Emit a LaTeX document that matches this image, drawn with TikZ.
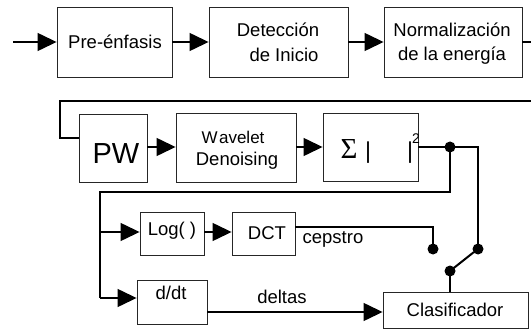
\documentclass[tikz,border=0pt]{standalone}
\usepackage{fontspec}
\setmainfont{Liberation Sans}
\newfontfamily\serifsym{Liberation Serif}
\usetikzlibrary{arrows.meta}
\begin{document}
\begin{tikzpicture}[x=1pt,y=-1pt,
  box/.style={draw=black!85, line width=0.9pt, inner sep=0pt},
  lbl/.style={anchor=base, inner sep=0pt, font=\fontsize{18.5}{22}\selectfont},
  wire/.style={line width=1.3pt},
  arr/.style={wire, -{Triangle[length=19pt,width=18pt]}},
  dot/.style={circle, fill=black, inner sep=0pt, minimum size=11pt}]
\useasboundingbox (0,0) rectangle (531,329);
% boxes
\node[box, minimum width=115pt, minimum height=70pt] (pe) at (114.5,42) {};
\node[box, minimum width=139pt, minimum height=70pt] (di) at (278.5,42) {};
\node[box, minimum width=138pt, minimum height=70pt] (ne) at (453,42) {};
\node[box, minimum width=68pt, minimum height=68pt] (pw) at (113,148) {};
\node[box, minimum width=120pt, minimum height=69pt] (wd) at (236,148) {};
\node[box, minimum width=95pt, minimum height=68pt] (sq) at (370.5,147) {};
\node[box, minimum width=64pt, minimum height=43pt] (lg) at (172,233.5) {};
\node[box, minimum width=63pt, minimum height=43pt] (dc) at (263.5,233.5) {};
\node[box, minimum width=70pt, minimum height=44pt] (dd) at (172,302) {};
\node[box, minimum width=145pt, minimum height=36pt] (cl) at (455.5,310) {};
% texts
\node[lbl] (tpe) at (115,49) {Pre-énfasis};
\node[lbl] (tdi1) at (278,37) {Detección};
\node[lbl] (tdi2) at (284,62) {de Inicio};
\node[lbl] (tne1) at (452,37) {Normalización};
\node[lbl] (tne2) at (452,61) {de la energía};
\node[lbl, font=\fontsize{29}{32}\selectfont] (tpw) at (116,164) {PW};
\node[lbl, font=\fontsize{17}{20}\selectfont] (twd1) at (233,143) {W\kern1.5pt avelet};
\node[lbl] (twd2) at (237,166) {Denoising};
\node[lbl, font=\serifsym\fontsize{29}{31}\selectfont] (tsig) at (349,158) {Σ};
\node[lbl, font=\fontsize{23}{25}\selectfont] (tbar1) at (368,159) {|};
\node[lbl, font=\fontsize{23}{25}\selectfont] (tbar2) at (410,159) {|};
\node[lbl, font=\fontsize{14}{16}\selectfont] (tsq) at (416,143) {2};
\node[lbl] (tlg) at (172,235) {Log( )};
\node[lbl] (tdc) at (267,240) {DCT};
\node[lbl] (tcep) at (333,243) {cepstro};
\node[lbl] (tdd) at (171,299) {d/dt};
\node[lbl] (tdel) at (282,303) {deltas};
\node[lbl] (tcl) at (455,316) {Clasificador};
% coordinates
\coordinate (in) at (13,42);
\coordinate (r1) at (531,42);
\coordinate (r2) at (531,101);
\coordinate (c1) at (60,101);
\coordinate (c2) at (60,138);
\coordinate (s1) at (478,147);
\coordinate (j2) at (450,192);
\coordinate (l1) at (100,192);
\coordinate (l2) at (100,232);
\coordinate (l3) at (100,298);
\coordinate (p1) at (295,227);
\coordinate (p2) at (433,227);
\node[dot] (dA) at (433,249) {};
\node[dot] (dB) at (478,249) {};
\node[dot] (dC) at (450,271) {};
\node[dot] (dJ) at (450,147) {};
\coordinate (arm) at (474,252);
% wires
\draw[arr] (in) -- (pe.west);
\draw[arr] (pe.east) -- (di.west);
\draw[arr] (di.east) -- (ne.west);
\draw[wire] (ne.east) -- (r1);
\draw[wire] (r2) -- (c1) -- (c2) -- (c2 -| pw.west);
\draw[arr] (pw.east |- 0,147) -- (wd.west |- 0,147);
\draw[arr] (wd.east |- 0,147) -- (sq.west);
\draw[wire] (sq.east) -- (s1) -- (dB.center);
\draw[wire] (dJ.center) -- (j2) -- (l1) -- (l3);
\draw[arr] (l3) -- (dd.west |- l3);
\draw[arr] (l2) -- (lg.west |- l2);
\draw[arr] (lg.east |- l2) -- (dc.west |- l2);
\draw[wire] (p1) -- (p2) -- (dA.center);
\draw[line width=2pt] (dC.center) -- (arm);
\draw[wire] (dC.center) -- (dC.center |- cl.north);
\draw[arr] (dd.east |- 0,312) -- (cl.west |- 0,312);
\end{tikzpicture}
\end{document}
